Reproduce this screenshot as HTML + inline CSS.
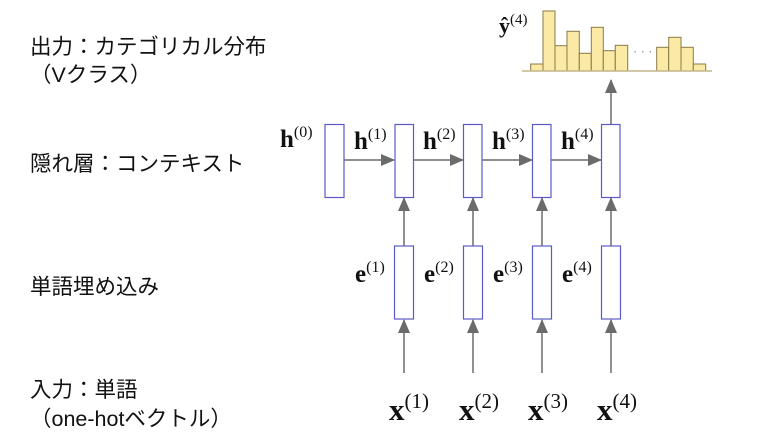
<!DOCTYPE html>
<html><head><meta charset="utf-8"><style>
html,body{margin:0;padding:0;background:#fff;}
svg{display:block}
.jp{font-family:"Liberation Sans","Noto Sans CJK JP",sans-serif;font-size:21.5px;fill:#111}
.m{font-family:"Liberation Serif","DejaVu Serif",serif;font-weight:bold;fill:#111}
.s{font-family:"Liberation Serif",serif;font-weight:normal;fill:#111}
</style></head><body>
<svg width="778" height="438" viewBox="0 0 778 438" xmlns="http://www.w3.org/2000/svg">
<defs>
<marker id="b" markerWidth="14" markerHeight="14" refX="13" refY="7" orient="auto" markerUnits="userSpaceOnUse"><path d="M0,1 L14,7 L0,13 z" fill="#6b6b6b"/></marker></defs>
<text class="jp" x="30" y="54">出力：カテゴリカル分布</text>
<text class="jp" x="30" y="82">（Vクラス）</text>
<text class="jp" x="30" y="171">隠れ層：コンテキスト</text>
<text class="jp" x="30" y="294">単語埋め込み</text>
<text class="jp" x="30" y="397">入力：単語</text>
<text class="jp" x="30" y="426">（one-hotベクトル）</text>
<g fill="#fbe9a6" stroke="#8a7a45" stroke-width="1">
<rect x="530.7" y="64" width="12.3" height="7"/>
<rect x="543" y="11" width="12" height="60"/>
<rect x="555" y="45.7" width="12" height="25.3"/>
<rect x="567" y="31.3" width="12.3" height="39.7"/>
<rect x="579.3" y="53.3" width="12" height="17.7"/>
<rect x="591.3" y="27.3" width="12" height="43.7"/>
<rect x="603.3" y="50.7" width="12" height="20.3"/>
<rect x="615.3" y="45.3" width="12.4" height="25.7"/>
<rect x="656.7" y="47.3" width="12" height="23.7"/>
<rect x="668.7" y="37.3" width="12.3" height="33.7"/>
<rect x="681" y="47.3" width="12.3" height="23.7"/>
<rect x="693.3" y="64" width="12.4" height="7"/>
</g>
<line x1="522" y1="71" x2="712" y2="71" stroke="#c2b58a" stroke-width="1.5"/>
<text x="633" y="56" font-family="Liberation Serif" font-size="13" fill="#888">· · ·</text>
<text class="m" x="499" y="33" font-size="22">ŷ<tspan class="s" font-size="15" dy="-9">(4)</tspan></text>
<g fill="#fff" stroke="#5a5ac8" stroke-width="1.2">
<rect x="325" y="124.5" width="19" height="73"/>
<rect x="395" y="124.5" width="18.5" height="73"/>
<rect x="463.5" y="124.5" width="18.5" height="73"/>
<rect x="532.5" y="124.5" width="18.5" height="73"/>
<rect x="601.5" y="124.5" width="18.5" height="73"/>
<rect x="394.5" y="246" width="19" height="73"/>
<rect x="463.5" y="246" width="19" height="73"/>
<rect x="532.5" y="246" width="19" height="73"/>
<rect x="601.5" y="246" width="19" height="73"/>
</g>
<g stroke="#6b6b6b" stroke-width="1.5">
<line x1="344" y1="160" x2="394" y2="160" marker-end="url(#b)"/>
<line x1="413" y1="160" x2="463" y2="160" marker-end="url(#b)"/>
<line x1="482" y1="160" x2="532" y2="160" marker-end="url(#b)"/>
<line x1="551" y1="160" x2="601" y2="160" marker-end="url(#b)"/>
<line x1="611" y1="124" x2="611" y2="80" marker-end="url(#b)"/>
<line x1="404" y1="246" x2="404" y2="198" marker-end="url(#b)"/>
<line x1="473" y1="246" x2="473" y2="198" marker-end="url(#b)"/>
<line x1="542" y1="246" x2="542" y2="198" marker-end="url(#b)"/>
<line x1="611" y1="246" x2="611" y2="198" marker-end="url(#b)"/>
<line x1="404" y1="373" x2="404" y2="320" marker-end="url(#b)"/>
<line x1="473" y1="373" x2="473" y2="320" marker-end="url(#b)"/>
<line x1="542" y1="373" x2="542" y2="320" marker-end="url(#b)"/>
<line x1="611" y1="373" x2="611" y2="320" marker-end="url(#b)"/>
</g>
<g class="m" font-size="25">
<text x="280" y="147">h<tspan class="s" font-size="16" dy="-10">(0)</tspan></text>
<text x="354" y="149">h<tspan class="s" font-size="16" dy="-10">(1)</tspan></text>
<text x="423" y="149">h<tspan class="s" font-size="16" dy="-10">(2)</tspan></text>
<text x="492" y="149">h<tspan class="s" font-size="16" dy="-10">(3)</tspan></text>
<text x="561" y="149">h<tspan class="s" font-size="16" dy="-10">(4)</tspan></text>
<text x="355" y="282">e<tspan class="s" font-size="16" dy="-10">(1)</tspan></text>
<text x="424" y="282">e<tspan class="s" font-size="16" dy="-10">(2)</tspan></text>
<text x="493" y="282">e<tspan class="s" font-size="16" dy="-10">(3)</tspan></text>
<text x="562" y="282">e<tspan class="s" font-size="16" dy="-10">(4)</tspan></text>
</g>
<g class="m" font-size="31">
<text x="389" y="420">x<tspan class="s" font-size="21" dy="-12">(1)</tspan></text>
<text x="459" y="420">x<tspan class="s" font-size="21" dy="-12">(2)</tspan></text>
<text x="528" y="420">x<tspan class="s" font-size="21" dy="-12">(3)</tspan></text>
<text x="597" y="420">x<tspan class="s" font-size="21" dy="-12">(4)</tspan></text>
</g>
</svg>
</body></html>
